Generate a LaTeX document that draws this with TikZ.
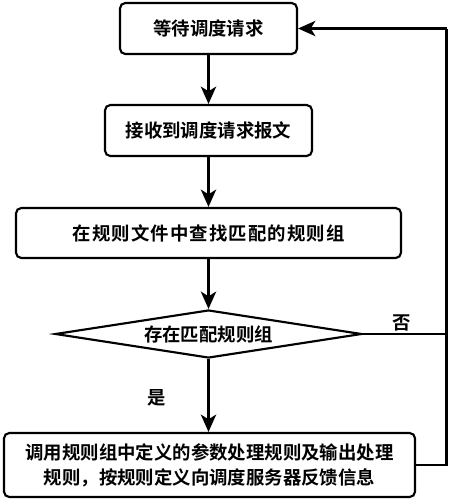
\documentclass[tikz,border=0pt]{standalone}
\usepackage{fontspec}
\newfontfamily\cjk{Noto Sans CJK SC Bold}
\usetikzlibrary{arrows.meta, positioning, shapes.geometric}

\tikzset{
  stepbox/.style={rectangle, rounded corners=4pt, draw, line width=1.6pt, align=center, inner sep=0pt},
  decision/.style={diamond, draw, line width=1.6pt, inner sep=0pt, aspect=6.4},
  flow/.style={draw, line width=1.6pt, -{Stealth[length=13pt, width=11.5pt, inset=3.5pt]}},
  plain/.style={draw, line width=1.6pt}
}

\begin{document}
\begin{tikzpicture}[
  x=0.75pt, y=-0.75pt,
  every node/.style={font=\cjk\fontsize{13.8pt}{19pt}\selectfont}
]
\useasboundingbox (0,0) rectangle (450,500);

% boxes
\node[stepbox, minimum width=132.75pt, minimum height=38.25pt] (wait) at (208.5,28.5) {等待调度请求};
\node[stepbox, minimum width=155.25pt, minimum height=38.25pt] (recv) at (208.5,130.5) {接收到调度请求报文};
\node[stepbox, minimum width=288.75pt, minimum height=37.5pt] (search) at (208.5,233)
  {\addfontfeatures{LetterSpace=6}在规则文件中查找匹配的规则组};
\node[decision, minimum width=230pt, minimum height=36pt] (check) at (208.5,334) {存在匹配规则组};
\node[stepbox, minimum width=308.25pt, minimum height=48pt] (apply) at (209.5,465)
  {调用规则组中定义的参数处理规则及输出处理\\规则，按规则定义向调度服务器反馈信息};

% loop back
\coordinate (rb) at (446.5,465);
\coordinate (rt) at (446.5,28.5);
\coordinate (rm) at (446.5,334);

% connectors
\draw[flow] (wait) -- (recv);
\draw[flow] (recv) -- (search);
\draw[flow] (search) -- (check);
\draw[flow] (check.south) -- (check.south |- apply.north);
\draw[plain] (apply.east) -- (rb) -- (rt);
\draw[flow] (rt) -- (wait.east);
\draw[plain] (check.east) -- (rm);

% labels
\node (no) at (402,323) {否};
\node (yes) at (157,398) {是};
\end{tikzpicture}
\end{document}
